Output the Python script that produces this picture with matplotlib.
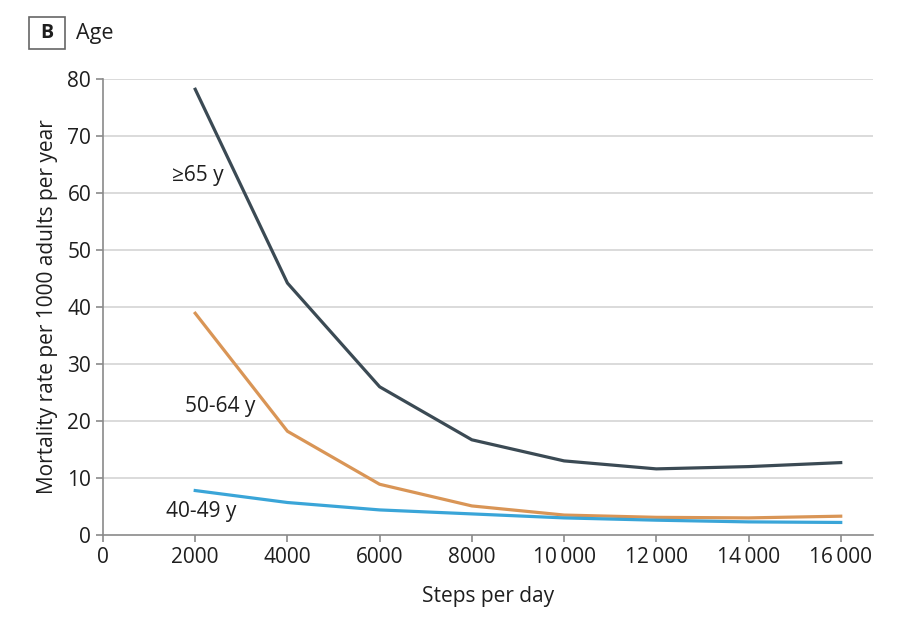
import matplotlib
matplotlib.use("Agg")
import matplotlib.pyplot as plt
from matplotlib.patches import Rectangle

plt.rcParams['font.family'] = ['Open Sans', 'DejaVu Sans']

steps = [2000, 4000, 6000, 8000, 10000, 12000, 14000, 16000]
age_65 = [78.2, 44.2, 26.0, 16.7, 13.0, 11.6, 12.0, 12.7]
age_50_64 = [38.9, 18.2, 8.9, 5.1, 3.5, 3.1, 3.0, 3.3]
age_40_49 = [7.8, 5.7, 4.4, 3.7, 3.0, 2.6, 2.3, 2.2]
xticks = [0, 2000, 4000, 6000, 8000, 10000, 12000, 14000, 16000]
xticklabels = ["0", "2000", "4000", "6000", "8000", "10\u2009000", "12\u2009000", "14\u2009000", "16\u2009000"]
yticks = [0, 10, 20, 30, 40, 50, 60, 70, 80]

fig = plt.figure(figsize=(9, 6.25), dpi=100)
ax = fig.add_axes([103/900, 1-535/625, (873-103)/900, (535-79)/625])

for y in yticks[1:]:
    ax.axhline(y, color='#d4d4d4', lw=1.2, zorder=0)

ax.plot(steps, age_65, color='#3b4a54', lw=2.3)
ax.plot(steps, age_50_64, color='#d99556', lw=2.3)
ax.plot(steps, age_40_49, color='#3aa5d8', lw=2.3)

ax.set_xlim(0, 16700)
ax.set_ylim(0, 80)
ax.set_xticks(xticks)
ax.set_xticklabels(xticklabels)
ax.set_yticks(yticks)
for s in ['top', 'right']:
    ax.spines[s].set_visible(False)
for s in ['left', 'bottom']:
    ax.spines[s].set_color('#8a8a8a')
    ax.spines[s].set_linewidth(1.2)
ax.tick_params(axis='both', direction='out', length=5, width=1.2, color='#8a8a8a',
               labelsize=15, labelcolor='#1e1e1e')

ax.set_xlabel("Steps per day", fontsize=15, color='#1e1e1e', labelpad=13)
ax.set_ylabel("Mortality rate per 1000 adults per year", fontsize=15, color='#1e1e1e', labelpad=7)

ax.text(1500, 63.0, "\u226565 y", fontsize=15, color='#1e1e1e', va='center')
ax.text(1780, 22.5, "50-64 y", fontsize=15, color='#1e1e1e', va='center')
ax.text(1360, 4.1, "40-49 y", fontsize=15, color='#1e1e1e', va='center')

fig.patches.append(Rectangle((29/900, 1-49/625), 36/900, 32/625, transform=fig.transFigure,
                             fill=False, edgecolor='#666666', lw=1.2))
fig.text(47/900, 1-33/625, "B", fontsize=14, fontweight='bold', ha='center', va='center', color='#1e1e1e')
fig.text(76/900, 1-33/625, "Age", fontsize=15.5, ha='left', va='center', color='#1e1e1e')

fig.savefig("out.png", dpi=100)
